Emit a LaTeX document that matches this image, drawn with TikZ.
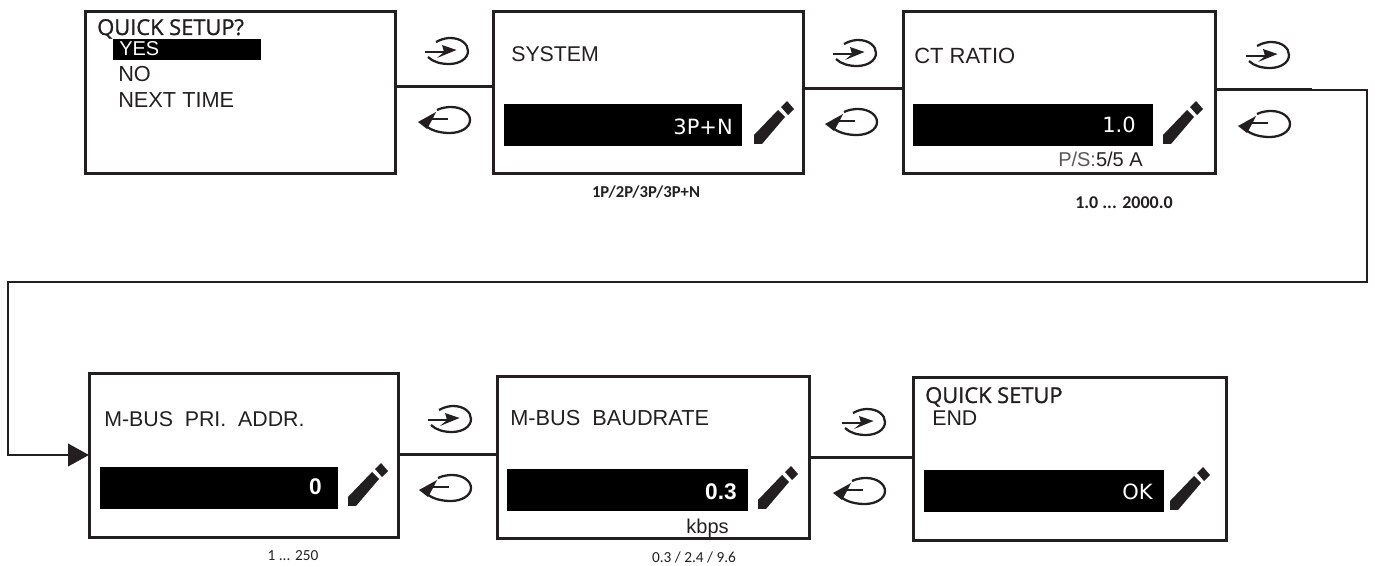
\documentclass[tikz,border=0pt]{standalone}
\usepackage{fontspec}
\setmainfont{Liberation Sans}
\newfontfamily\lcdfont{DejaVu Sans}
\newfontfamily\headfont[FakeBold=1.2]{Open Sans}
\newfontfamily\capfont{Carlito}
\usetikzlibrary{arrows.meta, positioning}
\definecolor{ink}{HTML}{231F20}
\begin{document}
\begin{tikzpicture}[
    x=0.75pt, y=-0.75pt,
    screen/.style={rectangle, draw=ink, line width=2.25pt, outer sep=0pt, minimum width=232.5pt, minimum height=121pt},
    valuebar/.style={rectangle, fill=black, outer sep=0pt, inner sep=0pt, minimum width=178.5pt, minimum height=31.5pt},
    lcdname/.style={anchor=base west, inner sep=0pt, text=ink, font=\fontsize{16}{18}\selectfont},
    lcdhead/.style={anchor=base west, inner sep=0pt, text=ink, font=\headfont\fontsize{16.4}{18}\selectfont},
    lcdvalue/.style={anchor=base east, inner sep=0pt, text=white, font=\lcdfont\fontsize{15.75}{18}\selectfont},
    boldvalue/.style={anchor=base east, inner sep=0pt, text=white, font=\bfseries\fontsize{17}{18}\selectfont},
    lcdunit/.style={anchor=base east, inner sep=0pt, text=ink, font=\fontsize{15}{18}\selectfont},
    limits/.style={anchor=base, inner sep=0pt, text=ink, font=\capfont\fontsize{11.5}{14}\selectfont},
    boldlimits/.style={limits, font=\capfont\bfseries\fontsize{12.5}{14}\selectfont},
    link/.style={draw=ink, line width=2.25pt},
    wire/.style={draw=ink, line width=1.2pt},
    enterkey/.pic={
        \draw[ink, line width=1.7pt] (-13,-9) .. controls (-7,-12.5) and (-1,-13) .. (1,-13) .. controls (12,-13) and (19,-7) .. (19,0) .. controls (19,8) and (10,13) .. (0,13) .. controls (-8,13) and (-16,11) .. (-21,6);
        \draw[ink, line width=1.6pt] (-24,0.7) -- (-5,0.7);
        \fill[ink] (7.5,-1) -- (-7,-6) -- (-5,1) -- (-12,7) -- cycle;
    },
    exitkey/.pic={
        \draw[ink, line width=1.7pt] (-13,-10) .. controls (-8,-12.5) and (-2,-13) .. (1,-13) .. controls (12,-13) and (20,-7) .. (20,0) .. controls (20,8) and (10,13) .. (0,13) .. controls (-9,13) and (-19,11) .. (-25,5);
        \draw[ink, line width=1.6pt] (-2,-1) -- (-19,-1);
        \fill[ink] (-32,2) -- (-14,-8) -- (-18,0) -- (-23,9) -- cycle;
    },
    pencil/.pic={
        \fill[ink] (0,0) -- (0,-9) -- (24,-34) -- (31,-27) -- (8,0) -- cycle;
        \fill[ink] (27,-37) -- (33,-43) -- (40,-35) -- (34,-29) -- cycle;
    }
]
    \useasboundingbox (0,0) rectangle (1375,566);

    \node[screen] (setup) at (240,92.5) {};
    \node[screen, right=73.5pt of setup] (system) {};
    \node[screen, minimum width=234pt, right=75pt of system] (ctratio) {};
    \node[screen, minimum width=231.75pt, minimum height=122.25pt] (addr) at (243.5,455.5) {};
    \node[screen, minimum width=234pt, minimum height=121.5pt, right=74.25pt of addr, yshift=-1.5pt] (baud) {};
    \node[screen, minimum width=234.75pt, minimum height=122.25pt, right=78pt of baud, yshift=-1pt] (done) {};

    \node[lcdhead] (setuphead) at (97,35) {QUICK SETUP?};
    \node[rectangle, fill=black, outer sep=0pt, inner sep=0pt, minimum width=111pt, minimum height=15.75pt] (yesbar) at (187,49.5) {};
    \node[lcdname, text=white, font=\fontsize{15}{18}\selectfont] (yes) at (119,56) {YES};
    \node[lcdname, font=\fontsize{16.3}{18}\selectfont] (no) at (118,82) {NO};
    \node[lcdname, font=\fontsize{16.3}{18}\selectfont] (next) at (118,108) {NEXT TIME};

    \node[lcdname] (systemname) at (511,62) {SYSTEM};
    \node[valuebar] (systembar) at (623,125) {};
    \node[lcdvalue] (systemvalue) at (733,135) {3P+N};
    \node[boldlimits] (systemrange) at (646,198) {1P/2P/3P/3P+N};

    \node[lcdname, font=\fontsize{16.5}{18}\selectfont] (ctname) at (914,64) {CT RATIO};
    \node[valuebar, minimum width=180pt] (ctbar) at (1033,125) {};
    \node[lcdvalue] (ctvalue) at (1136,133) {1.0};
    \node[lcdunit] (ctunit) at (1143,167) {\textcolor{ink!75}{P/S:}5/5 A};
    \node[boldlimits, font=\capfont\bfseries\fontsize{13.5}{14}\selectfont] (ctrange) at (1124,209) {1.0 ... 2000.0};

    \node[lcdname] (addrname) at (104,427) {M-BUS\ \ PRI.\ \ ADDR.};
    \node[valuebar] (addrbar) at (218.5,488.5) {};
    \node[boldvalue] (addrvalue) at (322,495) {0};
    \node[limits] (addrrange) at (293,561) {1 ... 250};

    \node[lcdname, font=\fontsize{16.3}{18}\selectfont] (baudname) at (510,426) {M-BUS\ \ BAUDRATE};
    \node[valuebar, minimum width=180.75pt] (baudbar) at (627.5,490.5) {};
    \node[boldvalue] (baudvalue) at (737,499) {0.3};
    \node[lcdunit] (baudunit) at (729,533) {kbps};
    \node[limits] (baudrange) at (694,562) {0.3 / 2.4 / 9.6};

    \node[lcdhead] (donehead) at (925,403) {QUICK SETUP};
    \node[lcdname] (doneend) at (932,426) {END};
    \node[valuebar, minimum width=180pt] (donebar) at (1044,491.5) {};
    \node[lcdvalue] (donevalue) at (1153,500) {OK};

    \pic at (754,144) {pencil};
    \pic at (1163,144) {pencil};
    \pic at (348,506) {pencil};
    \pic at (758,509) {pencil};
    \pic at (1170,510) {pencil};

    \pic at (449,51) {enterkey};
    \pic at (450,120) {exitkey};
    \pic at (857,53) {enterkey};
    \pic at (857,122) {exitkey};
    \pic at (1270,55) {enterkey};
    \pic at (1270,124) {exitkey};
    \pic at (452,419) {enterkey};
    \pic at (451,488) {exitkey};
    \pic at (866,422) {enterkey};
    \pic at (865,491) {exitkey};

    \coordinate (stub) at (1312,90);
    \coordinate (corner) at (1367,90);
    \coordinate (backright) at (1367,282);
    \coordinate (backleft) at (8,282);
    \coordinate (entry) at (8,455);

    \draw[link] (setup.east |- 0,87) -- (system.west |- 0,87);
    \draw[link] (system.east |- 0,89) -- (ctratio.west |- 0,89);
    \draw[link] (ctratio.east |- 0,90) -- (stub);
    \draw[wire, -{Triangle[length=15.75pt, width=17pt]}] (stub) -- (corner) -- (backright) -- (backleft) -- (entry) -- (addr.west |- entry);
    \draw[link] (addr.east |- 0,455) -- (baud.west |- 0,455);
    \draw[link] (baud.east |- 0,458) -- (done.west |- 0,458);
\end{tikzpicture}
\end{document}
